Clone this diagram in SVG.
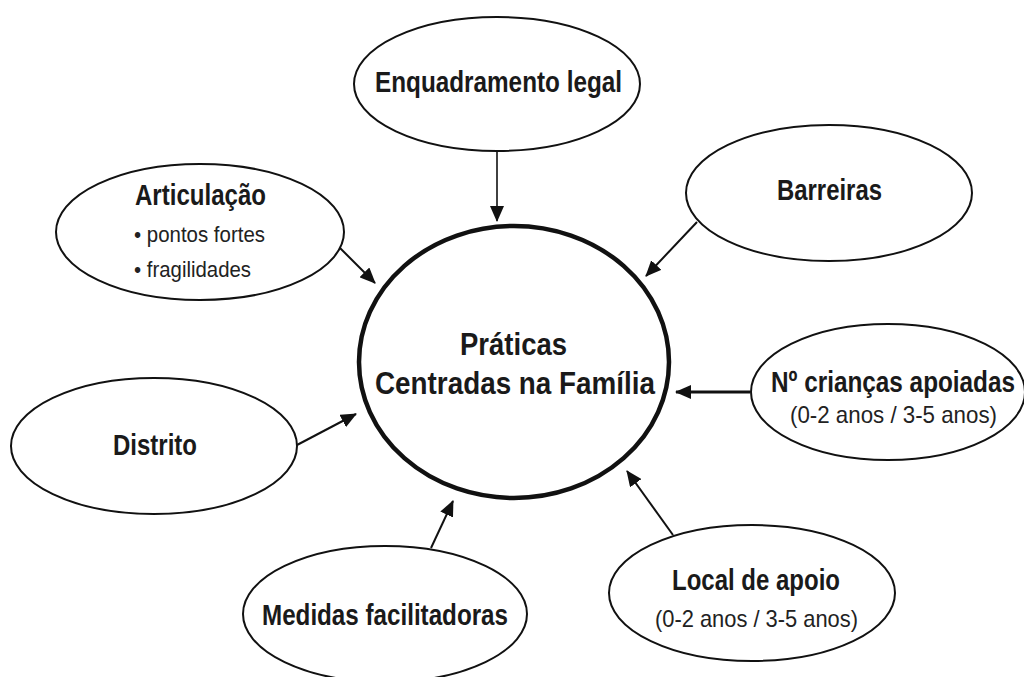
<svg xmlns="http://www.w3.org/2000/svg" width="1024" height="677" viewBox="0 0 1024 677">
<style>
.node{fill:#fff;stroke:#111;stroke-width:2}
.center{fill:#fff;stroke:#111;stroke-width:4.5}
.b{font-family:"Liberation Sans Narrow","Liberation Sans",Arial,sans-serif;font-weight:bold;font-size:30px;fill:#1a1a1a;text-anchor:start}
.r{font-family:"Liberation Sans Narrow","Liberation Sans",Arial,sans-serif;font-size:24px;fill:#222;text-anchor:start}
.s{font-family:"Liberation Sans Narrow","Liberation Sans",Arial,sans-serif;font-size:22px;fill:#222;text-anchor:start}
.c{stroke:#111;stroke-width:2;fill:none;marker-end:url(#ah)}
</style>
<defs>
<marker id="ah" markerUnits="userSpaceOnUse" markerWidth="16" markerHeight="14" refX="15" refY="7" orient="auto">
<path d="M0,0 L16,7 L0,14 Z" fill="#111"/>
</marker>
</defs>
<rect width="1024" height="677" fill="#fff"/>
<g id="connectors">
<line class="c" x1="497" y1="151" x2="497" y2="221" style="stroke-width:1.6"/>
<line class="c" x1="697" y1="222" x2="646" y2="276"/>
<line class="c" x1="340" y1="248" x2="375" y2="283"/>
<line class="c" x1="750" y1="392" x2="676" y2="392" style="stroke-width:3"/>
<line class="c" x1="297" y1="445" x2="356" y2="414"/>
<line class="c" x1="431" y1="548" x2="453" y2="501"/>
<line class="c" x1="673" y1="535" x2="627" y2="471"/>
</g>
<g id="central">
<ellipse class="center" cx="514" cy="362" rx="155" ry="136"/>
<text class="b" x="460" y="355" textLength="107" lengthAdjust="spacingAndGlyphs" style="font-size:31px">Práticas</text>
<text class="b" x="375" y="394" textLength="280" lengthAdjust="spacingAndGlyphs" style="font-size:31px">Centradas na Família</text>
</g>
<g id="enquadramento">
<ellipse class="node" cx="497" cy="84" rx="143" ry="67"/>
<text class="b" x="375" y="92" textLength="247" lengthAdjust="spacingAndGlyphs">Enquadramento legal</text>
</g>
<g id="barreiras">
<ellipse class="node" cx="829" cy="193" rx="143" ry="68"/>
<text class="b" x="777" y="200" textLength="105" lengthAdjust="spacingAndGlyphs">Barreiras</text>
</g>
<g id="articulacao">
<ellipse class="node" cx="200" cy="232" rx="144" ry="68"/>
<text class="b" x="135" y="205" textLength="131" lengthAdjust="spacingAndGlyphs">Articulação</text>
<text class="s" x="134" y="242" textLength="131" lengthAdjust="spacingAndGlyphs">• pontos fortes</text>
<text class="s" x="134" y="277" textLength="117" lengthAdjust="spacingAndGlyphs">• fragilidades</text>
</g>
<g id="criancas">
<ellipse class="node" cx="888" cy="392" rx="137" ry="68"/>
<text class="b" x="771" y="392" textLength="244" lengthAdjust="spacingAndGlyphs">Nº crianças apoiadas</text>
<text class="r" x="790" y="423" textLength="207" lengthAdjust="spacingAndGlyphs">(0-2 anos / 3-5 anos)</text>
</g>
<g id="distrito">
<ellipse class="node" cx="154" cy="446" rx="143" ry="68"/>
<text class="b" x="113" y="455" textLength="84" lengthAdjust="spacingAndGlyphs">Distrito</text>
</g>
<g id="medidas">
<ellipse class="node" cx="385" cy="614" rx="142" ry="68"/>
<text class="b" x="262" y="625" textLength="246" lengthAdjust="spacingAndGlyphs">Medidas facilitadoras</text>
</g>
<g id="local">
<ellipse class="node" cx="752" cy="593" rx="143" ry="68"/>
<text class="b" x="672" y="590" textLength="168" lengthAdjust="spacingAndGlyphs">Local de apoio</text>
<text class="r" x="655" y="627" textLength="203" lengthAdjust="spacingAndGlyphs">(0-2 anos / 3-5 anos)</text>
</g>
</svg>
